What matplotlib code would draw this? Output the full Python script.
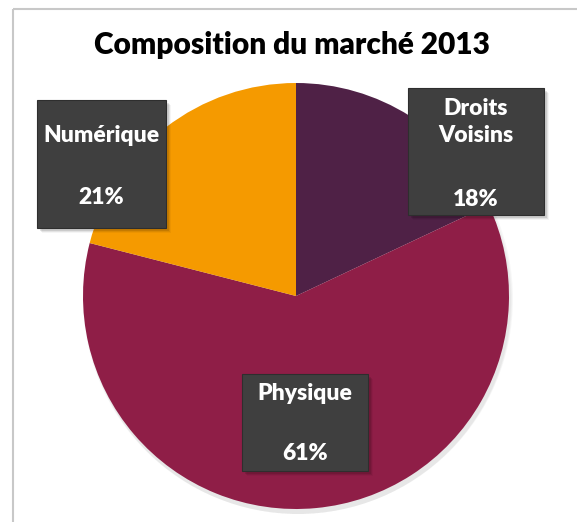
import matplotlib
matplotlib.use("Agg")
import matplotlib.pyplot as plt
from matplotlib.patches import Rectangle

categories = ["Droits\nVoisins", "Physique", "Numérique"]
values = [18, 61, 21]
colors = ["#4F2146", "#8F1E47", "#F59A00"]
title = "Composition du marché 2013"

W, H = 577, 522
fig = plt.figure(figsize=(W / 100, H / 100), dpi=100)
fig.patch.set_facecolor("white")
ax = fig.add_axes([0, 0, 1, 1])
ax.set_xlim(0, W)
ax.set_ylim(0, H)
ax.set_aspect("equal")
ax.axis("off")

# frame lines (top and left)
ax.plot([12.5, W], [H - 8.5, H - 8.5], color="#c8c8c8", lw=1.5, solid_capstyle="butt")
ax.plot([12.5, 12.5], [0, H - 8.5], color="#c8c8c8", lw=1.5, solid_capstyle="butt")

cx, cy, r = 296, H - 296, 213
# soft shadow under the pie
for i, a in enumerate([0.03, 0.03, 0.03]):
    sh = plt.Circle((cx + 2, cy - 3 - i), r + 2 - i, color="black", alpha=a, lw=0)
    ax.add_patch(sh)

ax.pie(values, colors=colors, startangle=90, counterclock=False,
       center=(cx, cy), radius=r, frame=True,
       wedgeprops=dict(linewidth=0))
ax.set_xlim(0, W)
ax.set_ylim(0, H)
ax.axis("off")

boxes = [
    (408, 88, 544, 215),
    (242, 374, 368, 471),
    (37, 100, 166, 228),
]
name_y = [122, 393, 136]
pct_y = [199, 454, 197]

for (l, t, rr, b), cat, v, ny, py in zip(boxes, categories, values, name_y, pct_y):
    for k, a in enumerate([0.10, 0.07, 0.04]):
        ax.add_patch(Rectangle((l + 3 + k, H - b - 3 - k), rr - l, b - t,
                               facecolor="black", alpha=a, lw=0))
    ax.add_patch(Rectangle((l, H - b), rr - l, b - t, facecolor="#3f3f3f",
                           edgecolor="#2e2e2e", lw=0.8))
    xc = (l + rr) / 2
    ax.text(xc, H - ny, cat, ha="center", va="center", color="white",
            fontsize=16.5, fontweight="heavy", family="Lato", linespacing=1.4)
    ax.text(xc, H - py, f"{v}%", ha="center", va="center", color="white",
            fontsize=16.5, fontweight="heavy", family="Lato")

ax.text(W / 2 + 3, H - 45, title, ha="center", va="center", color="black",
        fontsize=21.5, fontweight="heavy", family="Lato")

fig.savefig("out.png", dpi=100, facecolor="white")
